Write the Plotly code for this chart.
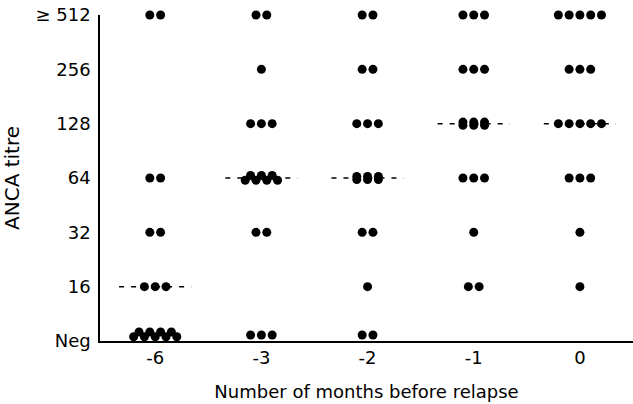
import plotly.graph_objects as go

# ---- data ----
categories = ["-6", "-3", "-2", "-1", "0"]
levels = ["Neg", "16", "32", "64", "128", "256", "≥ 512"]
# number of patients at each titre level (Neg, 16, 32, 64, 128, 256, >=512)
counts_m6 = [9, 3, 2, 2, 0, 0, 2]
counts_m3 = [3, 0, 2, 7, 3, 1, 2]
counts_m2 = [2, 1, 2, 6, 3, 2, 2]
counts_m1 = [0, 2, 1, 3, 6, 3, 3]
counts_0 = [0, 1, 1, 3, 5, 3, 5]
median_levels = ["16", "64", "64", "128", "128"]

all_counts = [counts_m6, counts_m3, counts_m2, counts_m1, counts_0]

# ---- layout constants (pixel geometry -> axis units) ----
PX_X = 1 / 106.3   # x units per pixel
PX_Y = 1 / 54.33   # y units per pixel
DOT_GAP = 10.8 * PX_X
NEG_LIFT = 0.11

def cluster(n, xc, yc):
    """Return dot positions for n dots around (xc, yc)."""
    xs, ys = [], []
    if n <= 5:
        for i in range(n):
            xs.append(xc + (i - (n - 1) / 2) * DOT_GAP)
            ys.append(yc)
    elif n == 6:
        # three columns of vertically stacked pairs
        for i in range(3):
            for dy in (-1.6, 1.6):
                xs.append(xc + (i - 1) * DOT_GAP)
                ys.append(yc + dy * PX_Y)
    else:
        # two interleaved rows
        bottom = (n + 1) // 2
        top = n - bottom
        for i in range(bottom):
            xs.append(xc + (i - (bottom - 1) / 2) * DOT_GAP)
            ys.append(yc - 2.3 * PX_Y)
        for i in range(top):
            xs.append(xc + (i - (top - 1) / 2) * DOT_GAP)
            ys.append(yc + 2.5 * PX_Y)
    return xs, ys

fig = go.Figure()

# median dashed lines
for ci, med in enumerate(median_levels):
    yl = levels.index(med)
    fig.add_trace(go.Scatter(
        x=[ci - 0.34, ci + 0.34], y=[yl, yl], mode="lines",
        line=dict(color="black", width=1.5, dash="5px,7px"),
        hoverinfo="skip", showlegend=False))

xs_all, ys_all = [], []
for ci, counts in enumerate(all_counts):
    for li, n in enumerate(counts):
        if n == 0:
            continue
        yc = li + (NEG_LIFT if li == 0 else 0)
        if li == 0 and n > 5:
            yc = li + 0.12
        xs, ys = cluster(n, ci, yc)
        xs_all += xs
        ys_all += ys

fig.add_trace(go.Scatter(
    x=xs_all, y=ys_all, mode="markers",
    marker=dict(color="black", size=9, line=dict(width=0)),
    cliponaxis=False, showlegend=False))

FONT = "DejaVu Sans"
fig.update_layout(
    width=633, height=404,
    margin=dict(l=100, r=0, t=15, b=63, autoexpand=False),
    paper_bgcolor="white", plot_bgcolor="white",
    font=dict(family=FONT, color="black", size=18),
    showlegend=False,
    xaxis=dict(
        range=[-0.52, 4.5], automargin=False,
        tickmode="array", tickvals=list(range(len(categories))),
        ticktext=categories, showgrid=False, zeroline=False,
        showline=True, linecolor="black", linewidth=1.5,
        ticks="", tickfont=dict(size=18), ticklabeloverflow="allow",
        title=dict(text="Number of months before relapse",
                   font=dict(size=18), standoff=18),
    ),
    yaxis=dict(
        range=[0, 6], automargin=False,
        tickmode="array", tickvals=list(range(len(levels))),
        ticktext=levels, showgrid=False, zeroline=False,
        showline=True, linecolor="black", linewidth=1.5,
        ticks="", tickfont=dict(size=18), ticklabelstandoff=4,
        ticklabeloverflow="allow",
        title=dict(text="ANCA titre", font=dict(size=20), standoff=12),
    ),
)

# remove the page's default body margin so the figure sits at the window corner
fig.write_html("out.html",
               config={"displayModeBar": False},
               post_script="document.body.style.margin='0';")
